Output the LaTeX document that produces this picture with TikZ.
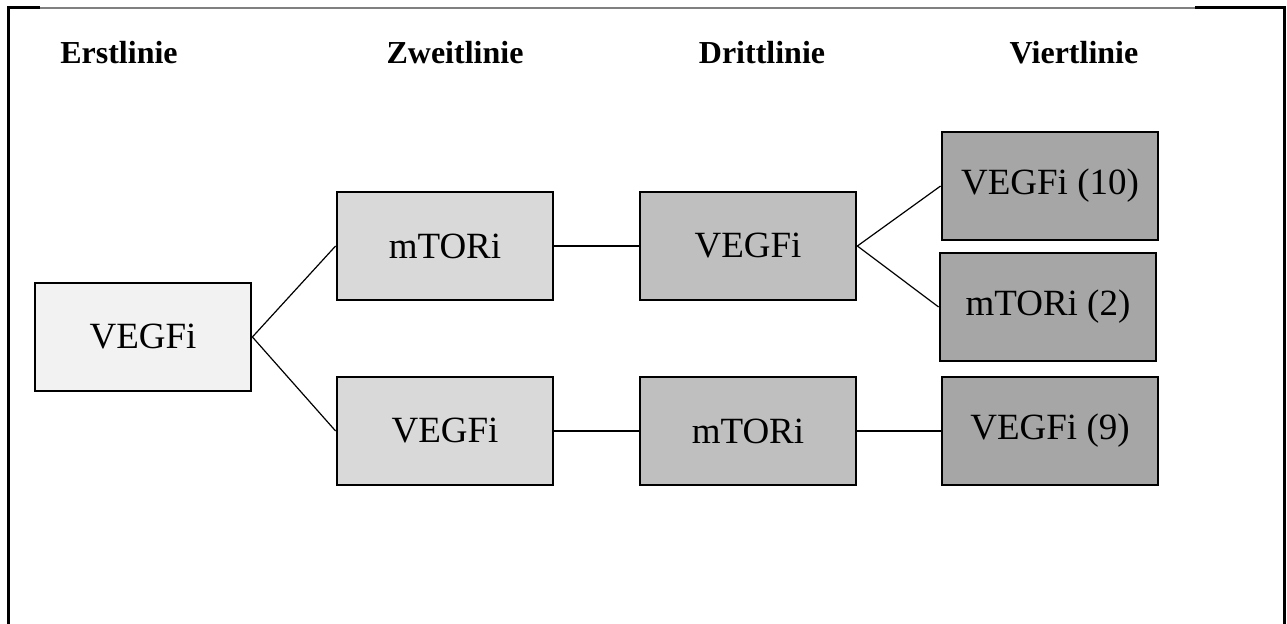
\documentclass[tikz,border=0pt]{standalone}
\usepackage{fontspec}
\setmainfont{Liberation Serif}
\usepackage{tikz}
\usetikzlibrary{positioning}

\definecolor{lineA}{HTML}{F2F2F2}
\definecolor{lineB}{HTML}{D9D9D9}
\definecolor{lineC}{HTML}{BFBFBF}
\definecolor{lineD}{HTML}{A6A6A6}

\tikzset{
  therapy/.style={draw, line width=1.4pt, minimum width=108pt, minimum height=54pt,
    inner sep=0pt, font=\fontsize{18.5}{22}\selectfont},
  header/.style={font=\fontsize{16}{19}\selectfont\bfseries},
  link/.style={line width=0.6pt},
}

\begin{document}
\begin{tikzpicture}[x=0.5pt, y=-0.5pt]

  \useasboundingbox (0,0) rectangle (1287,624);

  % Frame
  \draw[line width=1.5pt] (8,624) -- (8,8) -- (40,8);
  \draw[gray, line width=0.6pt] (40,8) -- (1195,8);
  \draw[line width=1.5pt] (1195,8) -- (1284,8) -- (1284,624);

  % Headers
  \node[header] (h1) at (119,53)  {Erstlinie};
  \node[header] (h2) at (455,53)  {Zweitlinie};
  \node[header] (h3) at (762,53)  {Drittlinie};
  \node[header] (h4) at (1074,53) {Viertlinie};

  % Define nodes
  \node[therapy, fill=lineA] (first)  at (143,337)  {VEGFi};
  \node[therapy, fill=lineB] (secA)   at (445,246)  {mTORi};
  \node[therapy, fill=lineB] (secB)   at (445,431)  {VEGFi};
  \node[therapy, fill=lineC] (thirdA) at (748,246)  {VEGFi};
  \node[therapy, fill=lineC] (thirdB) at (748,431)  {mTORi};
  \node[therapy, fill=lineD] (fourA)  at (1050,186) {VEGFi (10)};
  \node[therapy, fill=lineD] (fourB)  at (1048,307) {mTORi (2)};
  \node[therapy, fill=lineD] (fourC)  at (1050,431) {VEGFi (9)};

  % Connectors
  \draw[link] (first.east) -- (secA.west);
  \draw[link] (first.east) -- (secB.west);
  \draw[link] (secA) -- (thirdA);
  \draw[link] (secB) -- (thirdB);
  \draw[link] (thirdA.east) -- (fourA.west);
  \draw[link] (thirdA.east) -- (fourB.west);
  \draw[link] (thirdB) -- (fourC);

\end{tikzpicture}
\end{document}
